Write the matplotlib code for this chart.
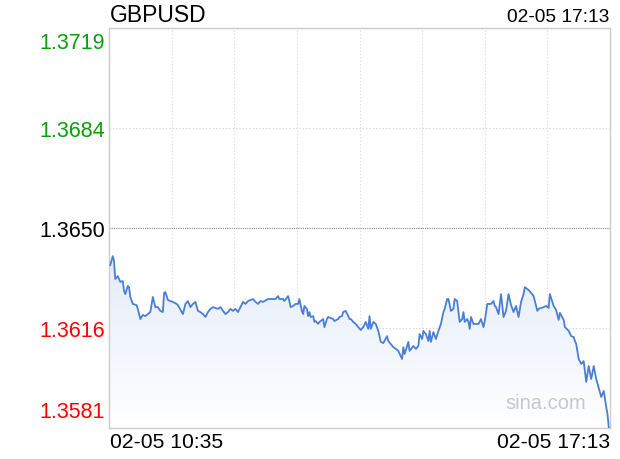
import matplotlib
matplotlib.use("Agg")
import matplotlib.pyplot as plt
import numpy as np
from matplotlib.colors import LinearSegmentedColormap

plt.rcParams['font.family'] = ['Liberation Sans', 'DejaVu Sans']

symbol = 'GBPUSD'
start_label = '02-05 10:35'
end_label = '02-05 17:13'
prev_close = 1.3650
half_range = 0.0069
tick_labels = ['1.3581', '1.3616', '1.3650', '1.3684', '1.3719']
tick_colors = ['#ff0000', '#ff0000', '#000000', '#0a9e0a', '#0a9e0a']

# minutes since 10:35
minutes = [0, 2, 3, 4, 6, 8, 10, 11, 12, 14, 15, 16, 18, 21, 22, 24, 26, 28, 30, 32,
           34, 36, 38, 40, 42, 43, 44, 46, 48, 50, 53, 54, 58, 60, 62, 64, 66, 68, 70, 72,
           74, 76, 78, 80, 82, 86, 88, 90, 92, 94, 96, 98, 100, 102, 106, 108, 110, 114, 116, 118,
           120, 122, 126, 128, 132, 134, 135, 138, 139, 142, 143, 144, 146, 148, 150, 151, 153, 154, 155, 157,
           158, 159, 160, 162, 163, 164, 166, 167, 168, 170, 171, 173, 174, 178, 179, 182, 183, 185, 186, 188,
           190, 191, 192, 194, 196, 198, 200, 202, 204, 206, 207, 208, 210, 212, 214, 216, 218, 221, 222, 226,
           228, 230, 233, 234, 235, 238, 239, 242, 244, 246, 247, 249, 250, 252, 254, 255, 256, 258, 260, 262,
           264, 266, 267, 269, 270, 272, 274, 275, 277, 278, 279, 281, 282, 283, 285, 286, 287, 288, 290, 294,
           296, 298, 299, 301, 304, 306, 307, 308, 310, 312, 314, 316, 318, 320, 322, 324, 326, 328, 330, 331,
           334, 336, 338, 341, 342, 346, 348, 350, 351, 354, 356, 358, 359, 362, 363, 366, 368, 370, 371, 372,
           374, 376, 378, 380, 382, 384, 386, 388, 390, 392, 394, 396, 397, 398]

prices = [1.36372, 1.36403, 1.36386, 1.36324, 1.36334, 1.36314, 1.36317, 1.36283, 1.36272, 1.36300,
          1.36296, 1.36262, 1.36238, 1.36234, 1.36221, 1.36186, 1.36200, 1.36196, 1.36203, 1.36210,
          1.36262, 1.36227, 1.36227, 1.36214, 1.36210, 1.36276, 1.36279, 1.36252, 1.36248, 1.36245,
          1.36238, 1.36234, 1.36203, 1.36238, 1.36248, 1.36227, 1.36238, 1.36245, 1.36214, 1.36210,
          1.36203, 1.36193, 1.36210, 1.36221, 1.36227, 1.36221, 1.36227, 1.36214, 1.36203, 1.36210,
          1.36221, 1.36214, 1.36221, 1.36210, 1.36245, 1.36238, 1.36248, 1.36255, 1.36245, 1.36238,
          1.36248, 1.36245, 1.36255, 1.36255, 1.36255, 1.36265, 1.36255, 1.36255, 1.36248, 1.36265,
          1.36248, 1.36227, 1.36231, 1.36238, 1.36238, 1.36255, 1.36214, 1.36203, 1.36231, 1.36221,
          1.36196, 1.36210, 1.36193, 1.36196, 1.36176, 1.36179, 1.36169, 1.36176, 1.36179, 1.36186,
          1.36158, 1.36186, 1.36193, 1.36186, 1.36179, 1.36186, 1.36193, 1.36196, 1.36210, 1.36214,
          1.36196, 1.36186, 1.36186, 1.36176, 1.36169, 1.36158, 1.36148, 1.36158, 1.36176, 1.36152,
          1.36196, 1.36152, 1.36176, 1.36169, 1.36145, 1.36107, 1.36103, 1.36127, 1.36110, 1.36089,
          1.36083, 1.36076, 1.36048, 1.36089, 1.36065, 1.36107, 1.36076, 1.36093, 1.36083, 1.36093,
          1.36134, 1.36117, 1.36145, 1.36134, 1.36110, 1.36145, 1.36107, 1.36141, 1.36117, 1.36145,
          1.36169, 1.36210, 1.36221, 1.36255, 1.36255, 1.36214, 1.36221, 1.36255, 1.36248, 1.36210,
          1.36176, 1.36186, 1.36210, 1.36176, 1.36186, 1.36176, 1.36152, 1.36193, 1.36169, 1.36169,
          1.36186, 1.36158, 1.36179, 1.36238, 1.36238, 1.36248, 1.36231, 1.36227, 1.36203, 1.36272,
          1.36193, 1.36214, 1.36272, 1.36234, 1.36210, 1.36231, 1.36193, 1.36245, 1.36272, 1.36296,
          1.36286, 1.36276, 1.36265, 1.36214, 1.36221, 1.36227, 1.36231, 1.36224, 1.36272, 1.36231,
          1.36217, 1.36183, 1.36207, 1.36183, 1.36158, 1.36145, 1.36127, 1.36124, 1.36110, 1.36100,
          1.36048, 1.36031, 1.36041, 1.35969, 1.36024, 1.35979, 1.36024, 1.35979, 1.35948, 1.35917,
          1.35938, 1.35882, 1.35858, 1.35813]

x = np.array(minutes)
y = np.array(prices)
ymin, ymax = prev_close - half_range, prev_close + half_range
xmin, xmax = -1, 399

fig = plt.figure(figsize=(6.2, 4.6), dpi=100)
ax = fig.add_axes([109/620, 1-429/460, 501/620, 400/460])
ax.set_xlim(xmin, xmax)
ax.set_ylim(ymin, ymax)

# gradient fill under the line
cmap = LinearSegmentedColormap.from_list('fade', ['#ffffff', '#e4ecf9'])
grad = np.linspace(0, 1, 256).reshape(-1, 1)
img = ax.imshow(grad, cmap=cmap, aspect='auto', origin='lower',
                extent=[x[0], x[-1], ymin, y.max()], zorder=1)
poly = ax.fill_between(x, y, ymin, color='none', lw=0)
path = poly.get_paths()[0]
img.set_clip_path(path, transform=ax.transData)

# grid
for gx in np.linspace(xmin, xmax, 9)[1:-1]:
    ax.axvline(gx, color='#d8d8d8', lw=0.8, ls=(0, (1, 2)), zorder=0)
yt = np.linspace(ymin, ymax, 5)
for i, gy in enumerate(yt[1:-1]):
    if i == 1:
        ax.axhline(gy, color='#888888', lw=0.8, ls=(0, (1, 1)), zorder=0)
    else:
        ax.axhline(gy, color='#d0d0d0', lw=0.8, ls=(0, (1, 2)), zorder=0)

ax.plot(x, y, color='#4a7fd4', lw=1.3, zorder=3)

for s in ax.spines.values():
    s.set_color('#cccccc')
    s.set_linewidth(1)
ax.set_xticks([])
ax.set_yticks([])

# price labels, the outer two pulled inside the plot box
for i, (gy, lab, c) in enumerate(zip(yt, tick_labels, tick_colors)):
    va = 'bottom' if i == 0 else ('top' if i == len(yt) - 1 else 'center_baseline')
    off = 4 if i == 0 else (-3 if i == len(yt) - 1 else 0)
    ax.annotate(lab, xy=(0, gy), xycoords=('axes fraction', 'data'),
                xytext=(-3, off), textcoords='offset points',
                ha='right', va=va, fontsize=15.5, color=c)

fig.text(110/620, 1-15/460, symbol, fontsize=16.5, ha='left', va='center')
fig.text(609/620, 1-17/460, end_label, fontsize=13.8, ha='right', va='center')
fig.text(110/620, 1-443/460, start_label, fontsize=15.2, ha='left', va='center')
fig.text(610/620, 1-443/460, end_label, fontsize=15.2, ha='right', va='center')
ax.text(0.952, 0.04, 'sina.com', transform=ax.transAxes, fontsize=14.5,
        color='#c8c8c8', ha='right', va='bottom', zorder=2)

fig.savefig('out.png', dpi=100, facecolor='white')
